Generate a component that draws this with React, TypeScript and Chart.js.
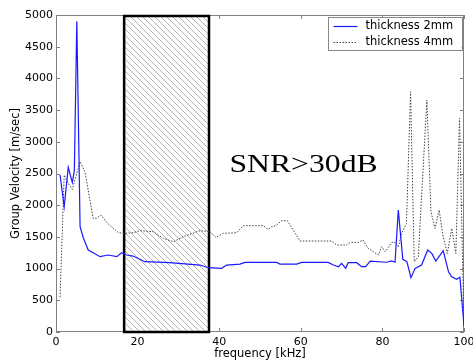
import React, { useEffect, useRef } from 'react';
import { Chart, registerables } from 'chart.js';

Chart.register(...registerables);

// ---- data ----
const freq2mm = [1, 2, 3, 4, 4.5, 5.1, 5.9, 6.7, 7.9, 9.1, 10.8, 12.8, 14.9, 16.1, 17.3, 18.9, 21.8, 27.9, 35.3, 37.3, 40.6, 41.8, 45.1, 46.3, 54.1, 54.9, 59.0, 60.2, 66.7, 68, 69.2, 70, 71, 71.6, 73.7, 74.9, 75.9, 77, 81, 82.3, 83.1, 83.9, 85, 86, 87, 88, 89.6, 91.1, 92.1, 93.1, 94.9, 96.2, 97, 98.2, 99, 100];
const vel2mm = [2476, 1976, 2597, 2360, 2550, 4900, 1660, 1482, 1293, 1250, 1188, 1214, 1188, 1250, 1214, 1198, 1109, 1093, 1056, 1014, 1004, 1056, 1070, 1098, 1098, 1072, 1072, 1098, 1098, 1056, 1030, 1082, 1004, 1093, 1093, 1030, 1030, 1119, 1100, 1120, 1100, 1924, 1146, 1109, 857, 1004, 1056, 1293, 1240, 1120, 1282, 951, 872, 830, 862, 100];

const freq4mm = [1, 1.5, 2, 3, 4, 5.9, 7.1, 9.1, 9.9, 11, 12.8, 15.3, 16.9, 18.9, 20.6, 23.8, 26.3, 28.8, 31.2, 35.3, 37.7, 39.2, 41, 44.3, 45.9, 50.8, 52, 52.9, 53.9, 55.3, 56.7, 59.8, 67.6, 68.8, 71.2, 72.1, 74.1, 75.2, 76.5, 79, 79.8, 80.7, 82.3, 83.1, 83.9, 84.7, 85.9, 86.9, 87.8, 88.8, 90.9, 91.9, 92.9, 93.9, 94.9, 95.9, 97, 98, 98.9, 100];
const vel4mm = [550, 1503, 2476, 2345, 2250, 2686, 2528, 1793, 1793, 1845, 1703, 1566, 1556, 1566, 1598, 1582, 1477, 1424, 1503, 1598, 1582, 1493, 1556, 1566, 1677, 1677, 1619, 1661, 1677, 1756, 1756, 1435, 1435, 1372, 1372, 1414, 1414, 1451, 1320, 1214, 1345, 1266, 1413, 1413, 1345, 1556, 1714, 3790, 1109, 1188, 3659, 1898, 1635, 1924, 1503, 1240, 1635, 1240, 3370, 84];

const xTickValues = [0, 20, 40, 60, 80, 100];
const yTickValues = [0, 500, 1000, 1500, 2000, 2500, 3000, 3500, 4000, 4500, 5000];
const seriesLabels = ['thickness 2mm', 'thickness 4mm'];
const seriesColors = ['rgb(25,25,255)', '#444444'];
const xTitle = 'frequency [kHz]';
const yTitle = 'Group Velocity [m/sec]';
const snrLabel = 'SNR>30dB';
const bandRange = [16.7, 37.5];
const snrAnchor = [42.5, 2530];

const FONT = '"DejaVu Sans", sans-serif';

function makeHatch(ctx: CanvasRenderingContext2D) {
  const s = 6;
  const c = document.createElement('canvas');
  c.width = s;
  c.height = s;
  const g = c.getContext('2d')!;
  g.fillStyle = '#ffffff';
  g.fillRect(0, 0, s, s);
  g.strokeStyle = '#b4b4b4';
  g.lineWidth = 1;
  for (let k = -1; k <= 1; k++) {
    g.beginPath();
    g.moveTo(k * s, 0);
    g.lineTo(k * s + s, s);
    g.stroke();
  }
  return ctx.createPattern(c, 'repeat');
}

const framePlugin = {
  id: 'framePlugin',
  beforeDatasetsDraw(chart: any) {
    const { ctx, chartArea } = chart;
    const xs = chart.scales.x;
    const ys = chart.scales.y;
    const { left, right, top, bottom } = chartArea;
    ctx.save();
    ctx.strokeStyle = '#808080';
    ctx.lineWidth = 1;
    ctx.strokeRect(left + 0.5, top + 0.5, right - left - 1, bottom - top - 1);
    ctx.beginPath();
    for (const v of xTickValues) {
      const px = Math.round(xs.getPixelForValue(v)) + 0.5;
      ctx.moveTo(px, bottom);
      ctx.lineTo(px, bottom - 4);
      ctx.moveTo(px, top);
      ctx.lineTo(px, top + 4);
    }
    for (const v of yTickValues) {
      const py = Math.round(ys.getPixelForValue(v)) + 0.5;
      ctx.moveTo(left, py);
      ctx.lineTo(left + 4, py);
      ctx.moveTo(right, py);
      ctx.lineTo(right - 4, py);
    }
    ctx.stroke();
    const x0 = xs.getPixelForValue(bandRange[0]);
    const x1 = xs.getPixelForValue(bandRange[1]);
    const y0 = ys.getPixelForValue(5000);
    const y1 = ys.getPixelForValue(0);
    const pat = makeHatch(ctx);
    if (pat) {
      ctx.fillStyle = pat;
      ctx.fillRect(x0, y0, x1 - x0, y1 - y0);
    }
    ctx.strokeStyle = '#000000';
    ctx.lineWidth = 2.5;
    ctx.strokeRect(x0, y0 + 1, x1 - x0, y1 - y0 - 1);
    ctx.restore();
  },
  afterDraw(chart: any) {
    const { ctx, chartArea } = chart;
    const xs = chart.scales.x;
    const ys = chart.scales.y;
    ctx.save();
    ctx.fillStyle = '#000';
    ctx.font = '26px "Liberation Serif", serif';
    ctx.textBaseline = 'alphabetic';
    ctx.textAlign = 'left';
    const sx = xs.getPixelForValue(snrAnchor[0]);
    const sy = ys.getPixelForValue(snrAnchor[1]);
    ctx.translate(sx, sy);
    ctx.scale(1.22, 1);
    ctx.fillText(snrLabel, 0, 0);
    ctx.setTransform(1, 0, 0, 1, 0, 0);

    const lw = 134, lh = 33;
    const lx = chartArea.right - 2.5 - lw;
    const ly = chartArea.top + 2;
    ctx.fillStyle = '#ffffff';
    ctx.fillRect(lx, ly, lw, lh);
    ctx.strokeStyle = '#888888';
    ctx.lineWidth = 1;
    ctx.strokeRect(Math.round(lx) + 0.5, Math.round(ly) + 0.5, lw, lh);
    ctx.font = '11.5px ' + FONT;
    ctx.textBaseline = 'middle';
    ctx.textAlign = 'left';
    chart.data.datasets.forEach((ds: any, i: number) => {
      const ry = ly + 9 + i * 16;
      ctx.strokeStyle = ds.borderColor;
      ctx.lineWidth = i === 0 ? 1.2 : 1;
      ctx.setLineDash(ds.borderDash || []);
      ctx.beginPath();
      ctx.moveTo(lx + 6, ry + 0.5);
      ctx.lineTo(lx + 30, ry + 0.5);
      ctx.stroke();
      ctx.setLineDash([]);
      ctx.fillStyle = '#000';
      ctx.fillText(ds.label, lx + 38, ry);
    });

    ctx.font = '11.5px ' + FONT;
    ctx.fillStyle = '#000';
    ctx.textAlign = 'center';
    ctx.textBaseline = 'alphabetic';
    ctx.fillText(xTitle, (chartArea.left + chartArea.right) / 2, 357);
    ctx.translate(19, (chartArea.top + chartArea.bottom) / 2);
    ctx.rotate(-Math.PI / 2);
    ctx.fillText(yTitle, 0, 0);
    ctx.restore();
  },
};

export default function App() {
  const ref = useRef<HTMLCanvasElement | null>(null);
  useEffect(() => {
    if (!ref.current) return;
    const chart = new Chart(ref.current, {
      type: 'line',
      data: {
        datasets: [
          {
            label: seriesLabels[0],
            data: freq2mm.map((f, i) => ({ x: f, y: vel2mm[i] })),
            borderColor: seriesColors[0],
            borderWidth: 1.2,
            pointRadius: 0,
            tension: 0,
            fill: false,
          },
          {
            label: seriesLabels[1],
            data: freq4mm.map((f, i) => ({ x: f, y: vel4mm[i] })),
            borderColor: seriesColors[1],
            borderWidth: 1,
            borderDash: [1.5, 1.5],
            pointRadius: 0,
            tension: 0,
            fill: false,
          },
        ],
      },
      options: {
        responsive: false,
        animation: false,
        layout: { padding: { top: 15, right: 9, left: 0, bottom: 0 } },
        plugins: { legend: { display: false }, tooltip: { enabled: false } },
        scales: {
          x: {
            type: 'linear',
            min: 0,
            max: 100,
            grid: { display: false, drawTicks: false },
            border: { display: false },
            ticks: {
              stepSize: 20,
              padding: 4,
              maxRotation: 0,
              color: '#000',
              font: { family: FONT, size: 11 },
              callback: (v: any) => String(v),
            },
            afterFit(scale: any) {
              scale.height = 28;
              scale.paddingLeft = 0;
              scale.paddingRight = 0;
            },
          },
          y: {
            type: 'linear',
            min: 0,
            max: 5000,
            grid: { display: false, drawTicks: false },
            border: { display: false },
            ticks: {
              stepSize: 500,
              padding: 3,
              color: '#000',
              font: { family: FONT, size: 11 },
              callback: (v: any) => String(v),
            },
            afterFit(scale: any) {
              scale.width = 56;
              scale.paddingTop = 0;
              scale.paddingBottom = 0;
            },
          },
        },
      },
      plugins: [framePlugin],
    } as any);
    return () => chart.destroy();
  }, []);
  return (
    <div style={{ position: 'absolute', left: 0, top: 0, width: 473, height: 360, background: '#fff' }}>
      <canvas ref={ref} width={473} height={360} />
    </div>
  );
}
